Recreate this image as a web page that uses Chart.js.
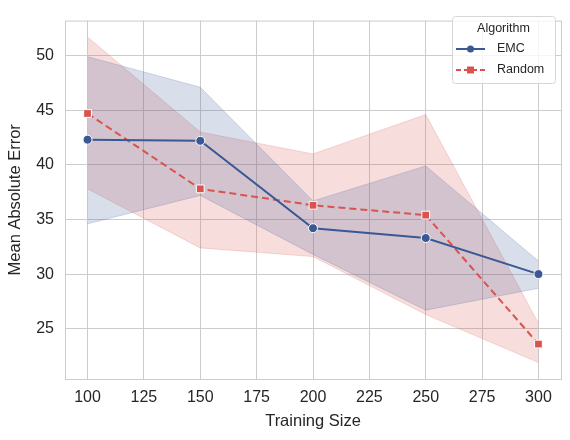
<!DOCTYPE html>
<html>
<head>
<meta charset="utf-8">
<title>Mean Absolute Error vs Training Size</title>
<script src="https://cdn.jsdelivr.net/npm/chart.js@4/dist/chart.umd.min.js"></script>
<style>
  html, body { margin: 0; padding: 0; background: #fff; }
  #wrap { width: 570px; height: 440px; }
</style>
</head>
<body>
<div id="wrap"><canvas id="chart" width="570" height="440"></canvas></div>
<script>
// Data
const trainingSizes = [100, 150, 200, 250, 300];
const xTicks = [100, 125, 150, 175, 200, 225, 250, 275, 300];
const yTicks = [25, 30, 35, 40, 45, 50];

const emcMean  = [42.3, 42.2, 34.2, 33.3, 30.0];
const emcUpper = [49.9, 47.1, 36.7, 39.9, 31.2];
const emcLower = [34.6, 37.2, 31.8, 26.7, 28.7];

const randomMean  = [44.7, 37.8, 36.3, 35.4, 23.6];
const randomUpper = [51.7, 43.0, 41.0, 44.6, 25.5];
const randomLower = [37.8, 32.4, 31.6, 26.3, 21.9];

const BLUE = '#3a5894';
const RED = '#d9534f';
const FONT = "'Liberation Sans', Arial, sans-serif";

function toPoints(values) {
    return trainingSizes.map((x, i) => ({ x: x, y: values[i] }));
}

function bandDataset(values, color, fill) {
    return {
        data: toPoints(values),
        borderColor: color,
        borderWidth: 1,
        backgroundColor: color,
        pointRadius: 0,
        fill: fill,
        isBand: true
    };
}

// frame around the plot area and the legend box
const framePlugin = {
    id: 'frame',
    afterDraw(chart) {
        const { ctx, chartArea: a } = chart;
        ctx.save();
        ctx.strokeStyle = '#cccccc';
        ctx.lineWidth = 1;
        ctx.strokeRect(a.left + 0.5, a.top + 0.5, a.right - a.left, a.bottom - a.top);

        // legend
        const bx = 452, by = 16, bw = 103, bh = 67;
        ctx.fillStyle = 'rgba(255,255,255,0.8)';
        ctx.strokeStyle = '#d6d6d6';
        ctx.beginPath();
        ctx.roundRect(bx + 0.5, by + 0.5, bw, bh, 3);
        ctx.fill();
        ctx.stroke();

        ctx.fillStyle = '#262626';
        ctx.font = '12.5px ' + FONT;
        ctx.textAlign = 'center';
        ctx.textBaseline = 'middle';
        ctx.fillText('Algorithm', bx + bw / 2, by + 13);

        const entries = chart.data.datasets.filter(d => !d.isBand);
        entries.forEach((d, i) => {
            const y = by + 33 + i * 21;
            ctx.strokeStyle = d.borderColor;
            ctx.lineWidth = 2;
            ctx.setLineDash(d.borderDash ? [5, 3] : []);
            ctx.beginPath();
            ctx.moveTo(bx + 4, y);
            ctx.lineTo(bx + 33, y);
            ctx.stroke();
            ctx.setLineDash([]);
            ctx.fillStyle = d.borderColor;
            ctx.beginPath();
            if (d.pointStyle === 'rect') {
                ctx.rect(bx + 15, y - 3.5, 7, 7);
            } else {
                ctx.arc(bx + 18.5, y, 3.5, 0, Math.PI * 2);
            }
            ctx.fill();
            ctx.fillStyle = '#262626';
            ctx.textAlign = 'left';
            ctx.font = '12.5px ' + FONT;
            ctx.fillText(d.label, bx + 45, y);
        });
        ctx.restore();
    }
};

const ctx = document.getElementById('chart').getContext('2d');

new Chart(ctx, {
    type: 'line',
    data: {
        datasets: [
            {
                label: 'EMC',
                data: toPoints(emcMean),
                borderColor: BLUE,
                backgroundColor: BLUE,
                borderWidth: 2,
                pointStyle: 'circle',
                pointRadius: 4.5,
                pointBorderColor: '#ffffff',
                pointBorderWidth: 1,
                fill: false
            },
            {
                label: 'Random',
                data: toPoints(randomMean),
                borderColor: RED,
                backgroundColor: RED,
                borderWidth: 2,
                borderDash: [7, 4],
                pointStyle: 'rect',
                pointRadius: 5.5,
                pointBorderColor: '#ffffff',
                pointBorderWidth: 1,
                fill: false
            },
            bandDataset(emcUpper, 'rgba(58,88,148,0.2)', '+1'),
            bandDataset(emcLower, 'rgba(58,88,148,0.2)', false),
            bandDataset(randomUpper, 'rgba(217,83,79,0.2)', '+1'),
            bandDataset(randomLower, 'rgba(217,83,79,0.2)', false)
        ]
    },
    options: {
        responsive: false,
        animation: false,
        layout: { padding: { left: 0, right: 9, top: 9, bottom: 0 } },
        plugins: {
            legend: { display: false },
            tooltip: { enabled: false }
        },
        scales: {
            x: {
                type: 'linear',
                min: 90,
                max: 310,
                afterBuildTicks: scale => { scale.ticks = xTicks.map(v => ({ value: v })); },
                afterFit: scale => { scale.height = 61; },
                grid: { color: '#cccccc', drawTicks: false },
                border: { display: false },
                ticks: { color: '#262626', padding: 9, font: { family: FONT, size: 16 } },
                title: {
                    display: true,
                    text: 'Training Size',
                    color: '#262626',
                    padding: { top: 0, bottom: 9 },
                    font: { family: FONT, size: 16.5 }
                }
            },
            y: {
                min: 20.4,
                max: 53.2,
                afterBuildTicks: scale => { scale.ticks = yTicks.map(v => ({ value: v })); },
                afterFit: scale => { scale.width = 65; },
                grid: { color: '#cccccc', drawTicks: false },
                border: { display: false },
                ticks: { color: '#262626', padding: 11, font: { family: FONT, size: 16 } },
                title: {
                    display: true,
                    text: 'Mean Absolute Error',
                    color: '#262626',
                    padding: { top: 6, bottom: 0 },
                    font: { family: FONT, size: 16.5 }
                }
            }
        }
    },
    plugins: [framePlugin]
});
</script>
</body>
</html>
